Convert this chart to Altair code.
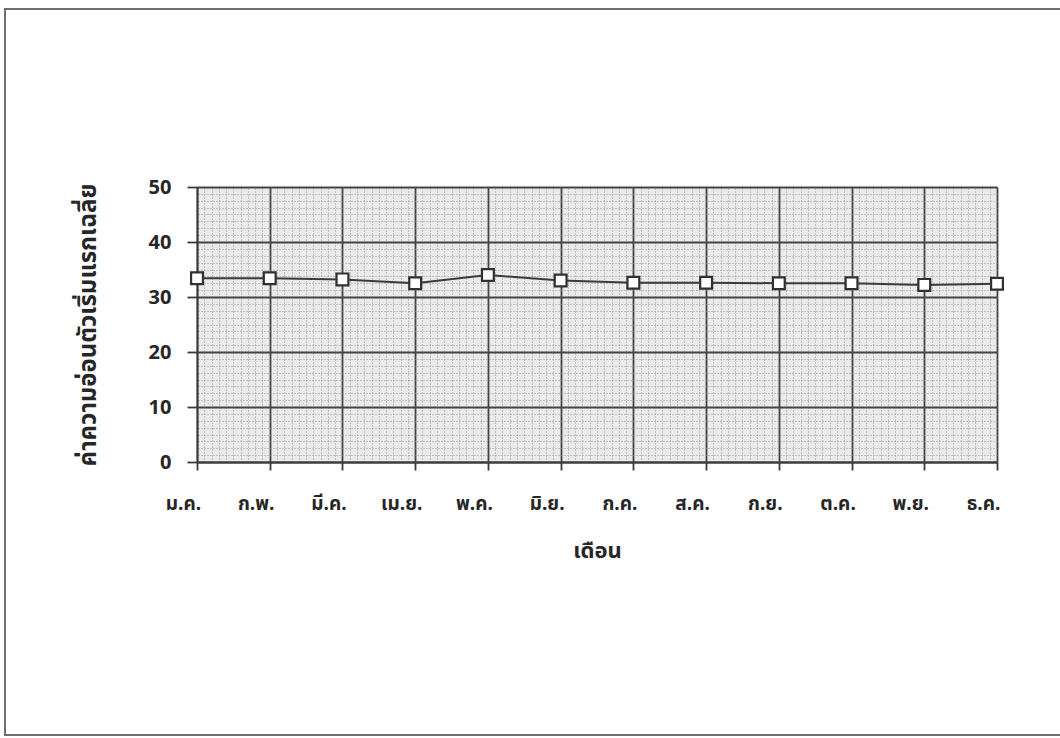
import altair as alt
import pandas as pd

# Monthly averages of the initial softness value
months = ["ม.ค.", "ก.พ.", "มี.ค.", "เม.ย.", "พ.ค.", "มิ.ย.",
          "ก.ค.", "ส.ค.", "ก.ย.", "ต.ค.", "พ.ย.", "ธ.ค."]
values = [33.4, 33.4, 33.2, 32.5, 34.0, 33.0,
          32.6, 32.6, 32.5, 32.5, 32.2, 32.4]

y_title = "ค่าความอ่อนตัวเริ่มแรกเฉลี่ย"
x_title = "เดือน"

df = pd.DataFrame({"month": months, "value": values,
                   "pos": list(range(len(months)))})

FONT = "Noto Sans Thai, Noto Serif Thai, Noto Sans, DejaVu Sans, sans-serif"
TEXT = "#262626"
W, H = 800, 275
LEFT, TOP = 197, 187

# fine dotted background grid
minor = alt.Chart(df).mark_point(opacity=0).encode(
    x=alt.X("pos:Q", scale=alt.Scale(domain=[0, 11], nice=False, zero=False),
            axis=alt.Axis(orient="top", values=[i / 10 for i in range(0, 111)],
                          grid=True, gridColor="#959595", gridDash=[1, 2],
                          gridWidth=1, labels=False, ticks=False, domain=False,
                          title=None)),
    y=alt.Y("value:Q", scale=alt.Scale(domain=[0, 50], nice=False),
            axis=alt.Axis(orient="right", values=[i * 1.25 for i in range(0, 41)],
                          grid=True, gridColor="#959595", gridDash=[1, 2],
                          gridWidth=1, labels=False, ticks=False, domain=False,
                          title=None)),
)

x_main = alt.X("month:N", sort=months,
               scale=alt.Scale(type="point", padding=0),
               axis=alt.Axis(orient="bottom", title=x_title, labelAngle=0,
                             grid=True, gridColor="#444444", gridWidth=1.8,
                             domainColor="#3a3a3a", domainWidth=1.8,
                             tickColor="#3a3a3a", tickWidth=1.8, tickSize=8,
                             labelPadding=24, labelOffset=-14,
                             labelFont=FONT, labelFontSize=19,
                             labelFontWeight="bold", labelColor=TEXT,
                             titleFont=FONT, titleFontSize=22,
                             titleFontWeight="bold", titleColor=TEXT,
                             titlePadding=27))
y_main = alt.Y("value:Q", scale=alt.Scale(domain=[0, 50], nice=False),
               axis=alt.Axis(orient="left", title=y_title,
                             values=[0, 10, 20, 30, 40, 50],
                             grid=True, gridColor="#444444", gridWidth=1.8,
                             domainColor="#3a3a3a", domainWidth=1.8,
                             tickColor="#3a3a3a", tickWidth=1.8, tickSize=10,
                             labelPadding=16, labelFont=FONT, labelFontSize=20,
                             labelFontWeight="bold", labelColor=TEXT,
                             titleFont=FONT, titleFontSize=24,
                             titleFontWeight="bold", titleColor=TEXT,
                             titlePadding=48))

line = alt.Chart(df).mark_line(color="#3a3a3a", strokeWidth=2).encode(
    x=x_main, y=y_main)
points = alt.Chart(df).mark_point(
    shape="square", size=140, filled=True, fill="white",
    stroke="#303030", strokeWidth=2.2, opacity=1).encode(x=x_main, y=y_main)

frame = alt.Chart(pd.DataFrame({"frame": [0]})).mark_rect(
    fill=None, stroke="#6f6f6f", strokeWidth=2).encode(
    x=alt.value(5 - LEFT), x2=alt.value(1100 - LEFT),
    y=alt.value(9 - TOP), y2=alt.value(735 - TOP))

main = alt.layer(line, points)

chart = alt.layer(minor, main, frame).resolve_scale(
    x="independent", y="independent"
).resolve_axis(x="independent", y="independent").properties(
    width=W, height=H,
    autosize=alt.AutoSizeParams(type="none"),
    padding={"left": LEFT, "top": TOP, "right": 1060 - LEFT - W,
             "bottom": 738 - TOP - H},
    background="white",
).configure_view(fill="#eaeaea", stroke=None)

chart.save("out.html", embed_options={"renderer": "svg", "actions": False})
